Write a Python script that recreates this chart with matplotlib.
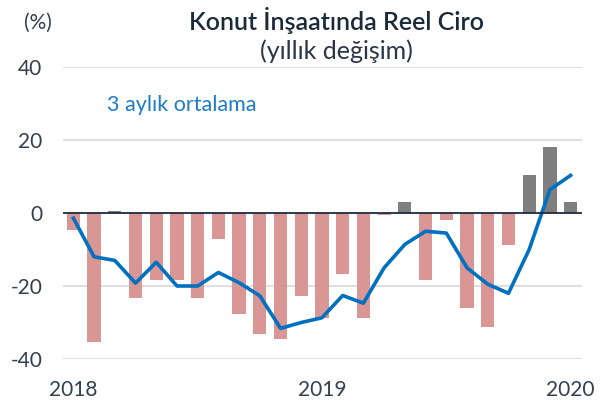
import numpy as np
import matplotlib
matplotlib.use('Agg')
import matplotlib.pyplot as plt

plt.rcParams['font.family'] = ['Lato', 'DejaVu Sans']

# monthly real turnover, yoy %, Jan 2018 - Jan 2020
months = np.arange(25)
turnover = [-4.7, -35.3, 0.5, -23.3, -18.4, -18.4, -23.3, -7.2, -27.6, -33.1, -34.4, -22.7,
            -28.8, -16.8, -28.8, -0.6, 3.0, -18.4, -1.8, -26.1, -31.3, -8.7, 10.3, 18.0, 3.0]
avg_3m = [-1.4, -12.0, -13.0, -19.2, -13.5, -20.0, -20.0, -16.3, -19.1, -22.7, -31.6, -30.0,
          -28.7, -22.6, -24.7, -15.0, -8.6, -5.0, -5.5, -15.0, -19.5, -22.0, -10.0, 6.4, 10.3]
tick_pos = [0, 12, 24]
tick_labels = ['2018', '2019', '2020']

W, H = 608, 401
fig = plt.figure(figsize=(W / 100, H / 100), dpi=100)
ax = fig.add_axes([63 / W, 1 - 359 / H, 519 / W, 292 / H])

colors = ['#7F7F7F' if v > 0 else '#DA9694' for v in turnover]
ax.bar(months, turnover, width=0.64, color=colors, zorder=2)
ax.plot(months, avg_3m, color='#0070C0', lw=2.6, zorder=3, solid_joinstyle='round')

ax.set_ylim(-40, 40)
ax.set_xlim(-0.5, 24.55)
ax.set_yticks([-40, -20, 0, 20, 40])
ax.set_yticklabels(['-40', '-20', '0', '20', '40'])
ax.set_xticks(tick_pos)
ax.set_xticklabels(tick_labels)
for y in [-40, -20, 20, 40]:
    ax.axhline(y, color='#D9D9D9', lw=1.2, zorder=1)
ax.axhline(0, color='#1F2A3A', lw=1.3, zorder=4)

for s in ax.spines.values():
    s.set_visible(False)
ax.tick_params(axis='both', length=0, labelsize=15, colors='#333F50')
ax.tick_params(axis='y', pad=15)
ax.tick_params(axis='x', pad=15)

fig.text(336 / W, 1 - 20 / H, 'Konut İnşaatında Reel Ciro', ha='center', va='center',
         fontsize=18, fontweight='semibold', color='#1B2A3A')
fig.text(336 / W, 1 - 51 / H, '(yıllık değişim)', ha='center', va='center',
         fontsize=18, color='#2A3648')
fig.text(38 / W, 1 - 23 / H, '(%)', ha='center', va='center', fontsize=15, color='#333F50')
ax.text(1.6, 29.7, '3 aylık ortalama', ha='left', va='center', fontsize=15.5, color='#1C7CC8')

fig.savefig('out.png', dpi=100)
